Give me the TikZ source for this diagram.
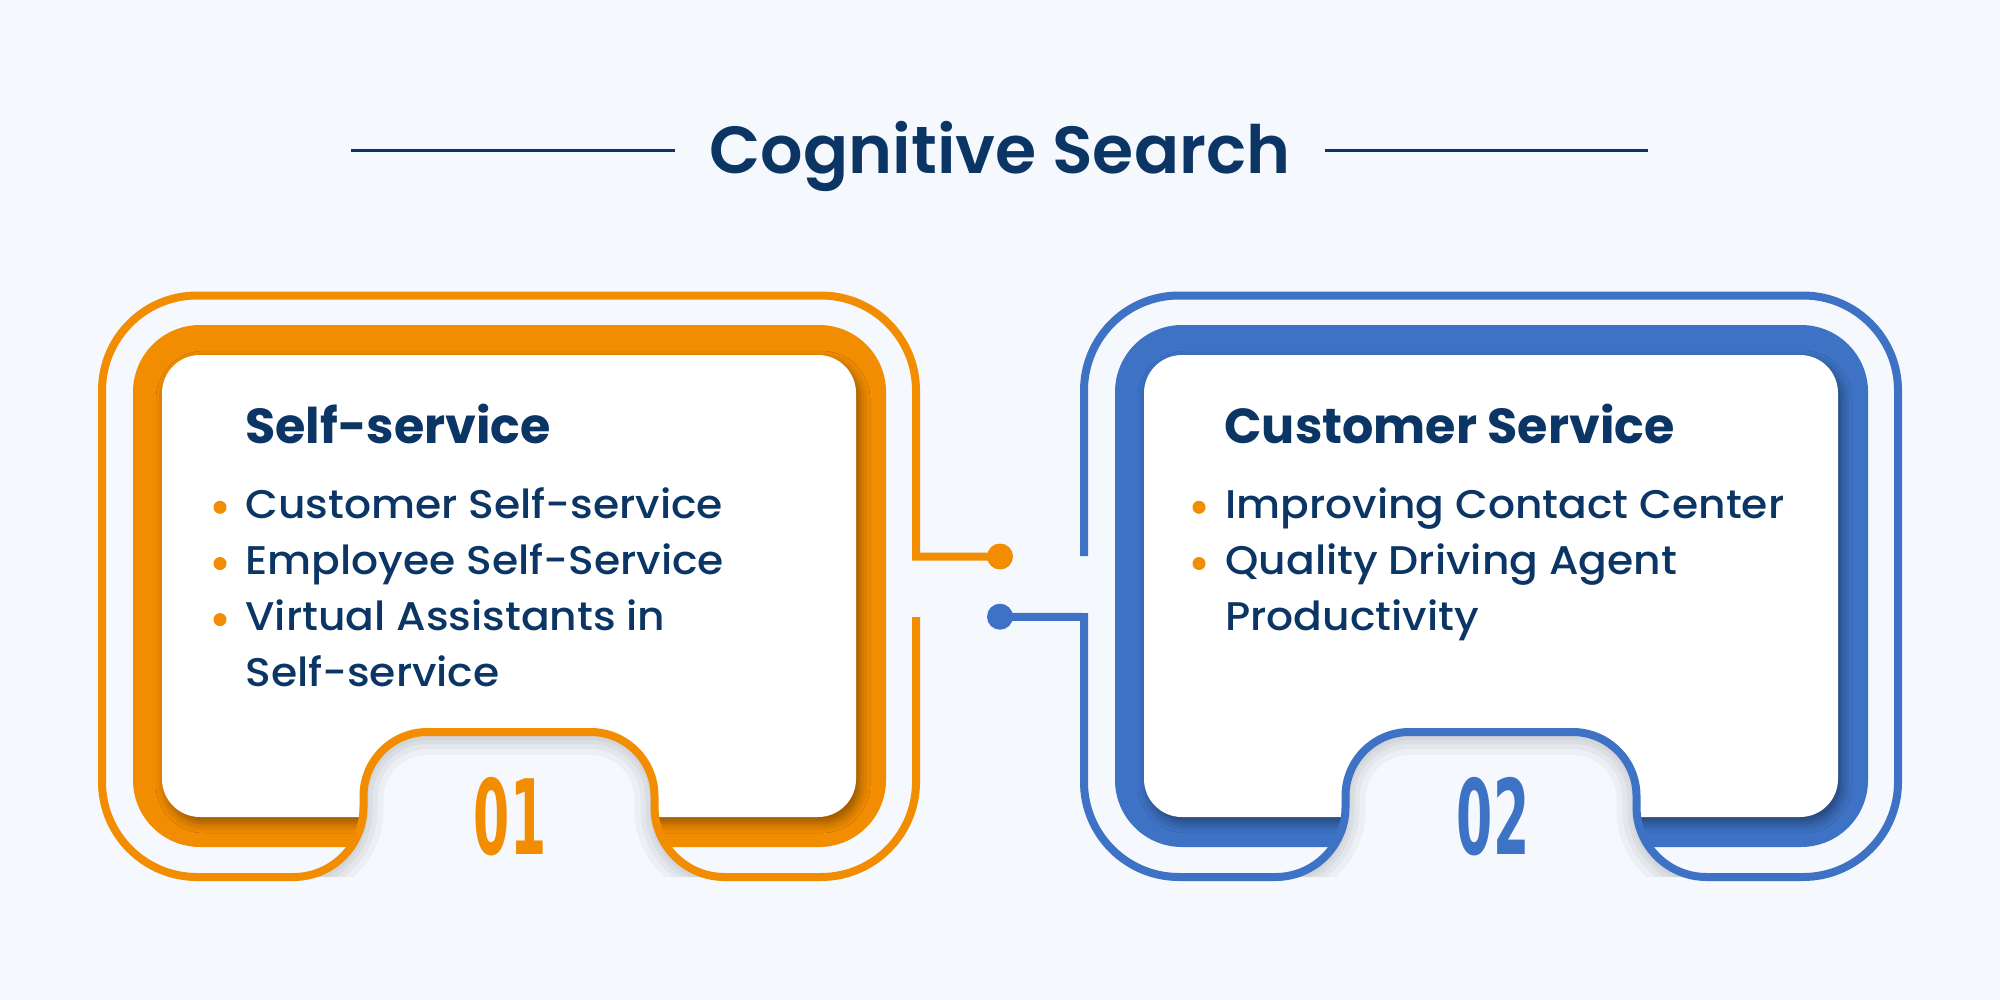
\documentclass[tikz,border=0pt]{standalone}
\usepackage{fontspec}
\usepackage{graphicx}
\usetikzlibrary{shadows.blur}
\setmainfont{Poppins}
\newfontfamily\pmed{Poppins Medium}[FakeStretch=1.06]
\newfontfamily\psemi{Poppins SemiBold}
\newfontfamily\pbold{Poppins Bold}
\newfontfamily\numfont{DejaVu Sans}
\definecolor{bg}{HTML}{F5F8FD}
\definecolor{org}{HTML}{F28C00}
\definecolor{blu}{HTML}{3D72C4}
\definecolor{navy}{HTML}{0B3564}
\newcommand\bumppath{(724.5,877) arc[start angle=-90,end angle=-180,radius=35pt] -- (654.5,796) arc[start angle=0,end angle=90,radius=32pt] -- (427.5,732) arc[start angle=90,end angle=180,radius=32pt] -- (363.5,807) arc[start angle=0,end angle=-90,radius=35pt]}
\newcommand\cardbody[1]{%
  \fill[#1, rounded corners=33.5pt] (133,325) rectangle (886,847);
  \fill[white, rounded corners=19pt, blur shadow={shadow xshift=2pt,shadow yshift=-3pt,shadow blur radius=5pt,shadow opacity=40}] (162,355) rectangle (856,817);
  \fill[bg] \bumppath -- cycle;
  \begin{scope}
    \clip \bumppath -- cycle;
    \foreach \w in {40,28,18,10}{\draw[black, opacity=0.035, line width=\w*0.5pt, yshift=-1.5pt] \bumppath;}
  \end{scope}
}
\tikzset{
  outer/.style={line width=4pt},
  ttl/.style={anchor=base west, inner sep=0pt, text=navy, font=\pbold\fontsize{24.6}{30}\selectfont},
  itm/.style={anchor=base west, inner sep=0pt, text=navy, font=\pmed\fontsize{20}{24}\selectfont},
  bul/.style={circle, fill=org, inner sep=0pt, minimum size=6.5pt},
  dot/.style={circle, inner sep=0pt, minimum size=13pt},
  num/.style={anchor=base, inner sep=0pt, font=\numfont\bfseries\fontsize{52}{56}\selectfont},
}
\begin{document}
\begin{tikzpicture}[x=0.5pt,y=-0.5pt]
\useasboundingbox[fill=bg] (0,0) rectangle (2000,1000);
% title
\node[anchor=base, inner sep=0pt, text=navy, font=\psemi\fontsize{33.3}{40}\selectfont] (title) at (1000,173.3) {Cognitive Search};
\draw[navy, line width=1.2pt] (351,150.7) -- (675,150.7);
\draw[navy, line width=1.2pt] (1325,150.7) -- (1648,150.7);
% dots
\node[dot, fill=org] (d1) at (1000,556.5) {};
\node[dot, fill=blu] (d2) at (1000,616.7) {};
% left card
\cardbody{org}
\draw[org, outer] (916,617) -- (916,782) arc[start angle=0,end angle=-90,radius=47.5pt] -- \bumppath -- (197,877) arc[start angle=270,end angle=180,radius=47.5pt] -- (102,390.5) arc[start angle=180,end angle=90,radius=47.5pt] -- (821,295.5) arc[start angle=90,end angle=0,radius=47.5pt] -- (916,556.5) -- (d1.center);
% right card
\begin{scope}[xshift=491pt]
\cardbody{blu}
\draw[blu, outer] (102,556) -- (102,390.5) arc[start angle=180,end angle=90,radius=47.5pt] -- (821,295.5) arc[start angle=90,end angle=0,radius=47.5pt] -- (916,782) arc[start angle=0,end angle=-90,radius=47.5pt] -- \bumppath -- (197,877) arc[start angle=270,end angle=180,radius=47.5pt] -- (102,617) -- (d2.center);
\end{scope}
% numbers
\node[num, text=org] (n1) at (510,854) {\scalebox{0.5}[1]{01}};
\node[num, text=blu] (n2) at (1493,854) {\scalebox{0.5}[1]{02}};
% left texts
\node[ttl] (t1) at (245,443) {Self-service};
\node[itm] (a1) at (245,518.3) {Customer Self-service};
\node[itm] (a2) at (245,574.5) {Employee Self-Service};
\node[itm] (a3) at (245,630.6) {Virtual Assistants in};
\node[itm] (a4) at (245,686) {Self-service};
\node[bul] (b1) at (220,507.3) {};
\node[bul] (b2) at (220,563.5) {};
\node[bul] (b3) at (220,619.6) {};
% right texts
\node[ttl] (t2) at (1224,443) {Customer Service};
\node[itm] (c1) at (1225,518.3) {Improving Contact Center};
\node[itm] (c2) at (1225,574.5) {Quality Driving Agent};
\node[itm] (c3) at (1225,630.6) {Productivity};
\node[bul] (e1) at (1199,507.3) {};
\node[bul] (e2) at (1199,563.5) {};
\end{tikzpicture}
\end{document}
